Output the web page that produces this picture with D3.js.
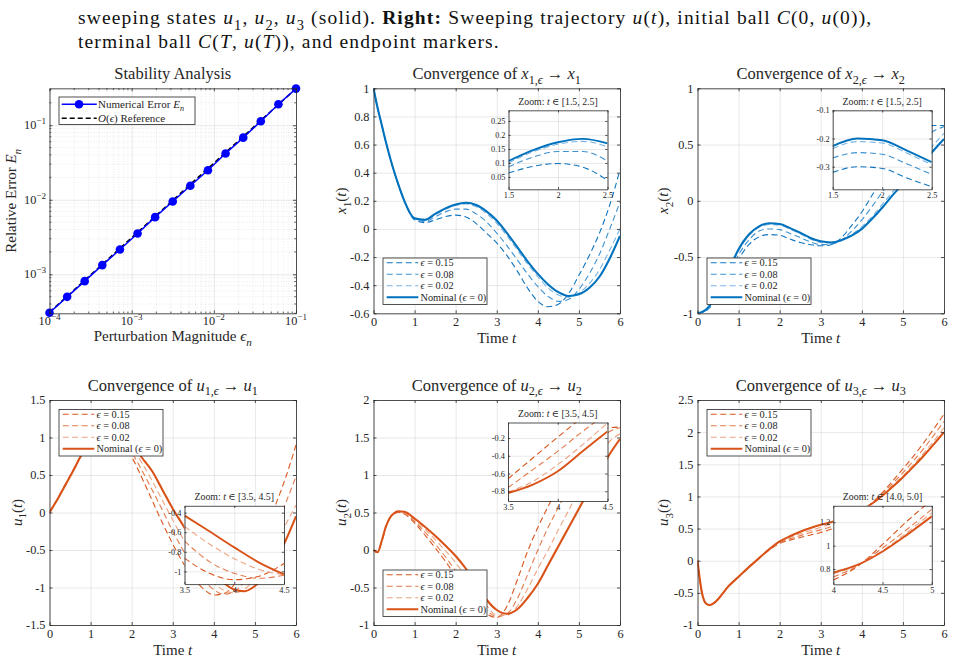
<!DOCTYPE html>
<html>
<head>
<meta charset="utf-8">
<script src="https://cdn.jsdelivr.net/npm/d3@7"></script>
<style>
  body { margin: 0; background: #fff; }
  svg { display: block; font-family: "Liberation Serif", "DejaVu Serif", serif; }
  .grid line { stroke: #000; stroke-opacity: 0.13; stroke-width: 0.7; }
  .grid path { display: none; }
  .ax path, .ax line { stroke: #262626; stroke-width: 0.8; }
  .ax text { fill: #262626; }
</style>
</head>
<body>
<svg id="fig" width="953" height="661"></svg>
<script>
// ---- data ----
const T = [0, 0.1, 0.2, 0.3, 0.4, 0.5, 0.6, 0.75, 1, 1.25, 1.5, 1.75, 2, 2.25, 2.5, 2.75,
           3, 3.25, 3.5, 3.75, 4, 4.25, 4.5, 4.75, 5, 5.25, 5.5, 5.75, 6];

const x1Nom = [1.0, 0.86, 0.74, 0.62, 0.51, 0.41, 0.32, 0.2, 0.075, 0.065, 0.107, 0.146, 0.174, 0.186, 0.17, 0.125,
               0.06, -0.03, -0.13, -0.23, -0.32, -0.395, -0.45, -0.477, -0.465, -0.42, -0.34, -0.21, -0.05];
const x1E02 = [1.0, 0.86, 0.74, 0.62, 0.51, 0.41, 0.32, 0.2, 0.072, 0.06, 0.10, 0.14, 0.167, 0.177, 0.158, 0.11,
               0.04, -0.05, -0.15, -0.25, -0.34, -0.42, -0.47, -0.485, -0.455, -0.39, -0.29, -0.15, 0.0];
const x1E08 = [1.0, 0.86, 0.74, 0.62, 0.51, 0.41, 0.32, 0.2, 0.068, 0.052, 0.086, 0.121, 0.141, 0.141, 0.107, 0.05,
               -0.03, -0.12, -0.22, -0.32, -0.41, -0.48, -0.515, -0.5, -0.43, -0.32, -0.18, 0.0, 0.19];
const x1E15 = [1.0, 0.86, 0.74, 0.62, 0.51, 0.41, 0.32, 0.2, 0.065, 0.045, 0.064, 0.088, 0.098, 0.085, 0.038, -0.03,
               -0.1, -0.19, -0.3, -0.42, -0.515, -0.553, -0.535, -0.46, -0.33, -0.19, -0.03, 0.17, 0.42];

const x2Nom = [-1.0, -0.99, -0.97, -0.93, -0.88, -0.82, -0.75, -0.63, -0.43, -0.3, -0.227, -0.2, -0.206, -0.243, -0.284, -0.33,
               -0.36, -0.37, -0.35, -0.31, -0.25, -0.16, -0.06, 0.05, 0.15, 0.25, 0.35, 0.45, 0.55];
const x2E02 = [-1.0, -0.99, -0.975, -0.94, -0.89, -0.83, -0.765, -0.645, -0.445, -0.31, -0.236, -0.211, -0.216, -0.252, -0.293, -0.34,
               -0.37, -0.375, -0.35, -0.3, -0.23, -0.14, -0.03, 0.08, 0.2, 0.3, 0.4, 0.5, 0.6];
const x2E08 = [-1.0, -0.99, -0.978, -0.945, -0.9, -0.84, -0.78, -0.67, -0.48, -0.35, -0.269, -0.25, -0.256, -0.29, -0.327, -0.365,
               -0.39, -0.385, -0.35, -0.27, -0.17, -0.05, 0.08, 0.21, 0.34, 0.45, 0.55, 0.62, 0.66];
const x2E15 = [-1.0, -0.99, -0.98, -0.95, -0.91, -0.86, -0.8, -0.7, -0.52, -0.39, -0.32, -0.3, -0.306, -0.34, -0.371, -0.39,
               -0.4, -0.39, -0.33, -0.22, -0.1, 0.05, 0.2, 0.35, 0.47, 0.57, 0.64, 0.67, 0.67];

const u1Nom = [0, 0.09, 0.18, 0.28, 0.38, 0.48, 0.58, 0.74, 0.92, 1.03, 1.06, 1.02, 0.92, 0.73, 0.55, 0.3,
               0.05, -0.17, -0.4, -0.62, -0.8, -0.94, -1.03, -1.05, -0.98, -0.84, -0.64, -0.37, -0.05];
const u1E02 = [0, 0.09, 0.18, 0.28, 0.38, 0.48, 0.58, 0.74, 0.92, 1.02, 1.05, 1.0, 0.87, 0.66, 0.42, 0.16,
               -0.1, -0.35, -0.58, -0.78, -0.94, -1.04, -1.07, -1.02, -0.88, -0.68, -0.43, -0.16, 0.1];
const u1E08 = [0, 0.09, 0.185, 0.285, 0.385, 0.485, 0.585, 0.745, 0.92, 1.01, 1.03, 0.96, 0.8, 0.56, 0.3, 0.03,
               -0.25, -0.5, -0.72, -0.9, -1.03, -1.09, -1.05, -0.92, -0.72, -0.47, -0.19, 0.13, 0.48];
const u1E15 = [0, 0.095, 0.19, 0.29, 0.39, 0.49, 0.59, 0.75, 0.91, 0.99, 0.99, 0.9, 0.74, 0.46, 0.16, -0.14,
               -0.42, -0.67, -0.87, -1.02, -1.1, -1.08, -0.96, -0.76, -0.5, -0.2, 0.1, 0.47, 0.9];

const u2Nom = [0, -0.03, 0.12, 0.31, 0.43, 0.49, 0.515, 0.51, 0.42, 0.31, 0.19, 0.06, -0.08, -0.25, -0.45, -0.66,
               -0.8, -0.85, -0.79, -0.64, -0.45, -0.2, 0.05, 0.3, 0.55, 0.8, 1.04, 1.28, 1.48];
const u2E02 = [0, -0.03, 0.12, 0.31, 0.43, 0.49, 0.51, 0.5, 0.4, 0.28, 0.14, -0.01, -0.17, -0.36, -0.56, -0.74,
               -0.87, -0.87, -0.75, -0.52, -0.25, 0.0, 0.27, 0.53, 0.8, 1.05, 1.28, 1.45, 1.55];
const u2E08 = [0, -0.03, 0.12, 0.31, 0.43, 0.49, 0.505, 0.49, 0.38, 0.24, 0.08, -0.09, -0.28, -0.47, -0.65, -0.8,
               -0.89, -0.85, -0.65, -0.33, 0.0, 0.3, 0.57, 0.84, 1.08, 1.3, 1.47, 1.58, 1.63];
const u2E15 = [0, -0.03, 0.12, 0.31, 0.43, 0.48, 0.5, 0.48, 0.36, 0.2, 0.03, -0.15, -0.35, -0.55, -0.72, -0.85,
               -0.9, -0.75, -0.4, -0.02, 0.3, 0.58, 0.85, 1.1, 1.32, 1.48, 1.58, 1.63, 1.64];

const u3Nom = [0, -0.47, -0.66, -0.69, -0.66, -0.6, -0.52, -0.4, -0.25, -0.1, 0.04, 0.18, 0.3, 0.38, 0.45, 0.51,
               0.56, 0.6, 0.65, 0.71, 0.79, 0.89, 1.01, 1.15, 1.3, 1.46, 1.63, 1.81, 2.0];
const u3E02 = [0, -0.47, -0.66, -0.69, -0.66, -0.6, -0.52, -0.4, -0.25, -0.1, 0.04, 0.18, 0.29, 0.36, 0.42, 0.47,
               0.52, 0.57, 0.62, 0.69, 0.78, 0.89, 1.02, 1.17, 1.32, 1.49, 1.67, 1.86, 2.07];
const u3E08 = [0, -0.47, -0.66, -0.69, -0.66, -0.6, -0.52, -0.4, -0.25, -0.1, 0.04, 0.175, 0.28, 0.34, 0.39, 0.44,
               0.48, 0.53, 0.59, 0.67, 0.77, 0.9, 1.04, 1.2, 1.37, 1.55, 1.74, 1.95, 2.17];
const u3E15 = [0, -0.47, -0.66, -0.69, -0.66, -0.6, -0.52, -0.4, -0.25, -0.1, 0.04, 0.17, 0.27, 0.32, 0.36, 0.4,
               0.44, 0.49, 0.56, 0.65, 0.76, 0.9, 1.06, 1.24, 1.43, 1.62, 1.83, 2.05, 2.28];

const xInT = [1.5, 1.75, 2, 2.25, 2.5];
const x1InNom = [0.107, 0.146, 0.174, 0.186, 0.170];
const x1InE02 = [0.100, 0.140, 0.167, 0.177, 0.158];
const x1InE08 = [0.086, 0.121, 0.141, 0.141, 0.107];
const x1InE15 = [0.064, 0.088, 0.098, 0.085, 0.038];
const x2InNom = [-0.227, -0.200, -0.206, -0.243, -0.284];
const x2InE02 = [-0.236, -0.211, -0.216, -0.252, -0.293];
const x2InE08 = [-0.269, -0.250, -0.256, -0.290, -0.327];
const x2InE15 = [-0.320, -0.300, -0.306, -0.340, -0.371];
const uInT = [3.5, 3.75, 4, 4.25, 4.5];
const u1InNom = [-0.43, -0.59, -0.755, -0.91, -1.03];
const u1InE02 = [-0.54, -0.72, -0.87, -0.98, -1.035];
const u1InE08 = [-0.69, -0.9, -1.02, -1.07, -1.04];
const u1InE15 = [-0.865, -1.02, -1.085, -1.05, -0.92];
const u2InNom = [-0.82, -0.725, -0.575, -0.35, -0.125];
const u2InE02 = [-0.81, -0.69, -0.5, -0.275, -0.03];
const u2InE08 = [-0.76, -0.556, -0.35, -0.125, 0.08];
const u2InE15 = [-0.66, -0.425, -0.19, 0.04, 0.28];
const u3InT = [4, 4.25, 4.5, 4.75, 5];
const u3InNom = [0.77, 0.837, 0.95, 1.094, 1.25];
const u3InE02 = [0.76, 0.834, 0.957, 1.114, 1.28];
const u3InE08 = [0.733, 0.83, 0.98, 1.14, 1.31];
const u3InE15 = [0.706, 0.826, 1.01, 1.21, 1.39];

// stability study
const epsN = [1e-4, 1.64e-4, 2.68e-4, 4.39e-4, 7.2e-4, 1.18e-3, 1.93e-3, 3.16e-3, 5.18e-3, 8.48e-3,
              1.39e-2, 2.28e-2, 3.73e-2, 6.11e-2, 1e-1];
const errN = [3.05e-4, 4.99e-4, 8.1e-4, 1.33e-3, 2.15e-3, 3.53e-3, 5.85e-3, 9.48e-3, 1.54e-2, 2.49e-2,
              4.17e-2, 6.82e-2, 0.113, 0.191, 0.31];
const refN = [3.1e-4, 5.08e-4, 8.32e-4, 1.36e-3, 2.23e-3, 3.66e-3, 5.99e-3, 9.8e-3, 1.61e-2, 2.63e-2,
              4.31e-2, 7.06e-2, 0.116, 0.189, 0.31];

const epsLabels = ["0.15", "0.08", "0.02"];

// ---- layout / style ----
const W = 246.5, H = 225;
const COLS = [49.5, 373.5, 697.5], ROWS = [88.3, 400];
const BLUE = ["#1176bf", "#3d92d2", "#78b4e3", "#0072BD"];
const ORANGE = ["#d8561e", "#e27a4b", "#eca483", "#D95319"];
const TICK = 3, FS = 12.3, TFS = 16.5, LFS = 15;

const svg = d3.select("#fig");
let clipN = 0;

function rich(sel, parts, fs) {
  let cur = 0;
  parts.forEach(([s, f = ""]) => {
    const off = f.includes("b") ? fs * 0.3 : f.includes("p") ? -fs * 0.42 : 0;
    const ts = sel.append("tspan").text(s).attr("dy", off - cur);
    cur = off;
    if (f.includes("i")) ts.attr("font-style", "italic");
    if (f.includes("B")) ts.attr("font-weight", "bold");
    if (off !== 0) ts.attr("font-size", fs * 0.74);
  });
  return sel;
}

function clip(g, w, h) {
  const id = "c" + (clipN++);
  g.append("clipPath").attr("id", id).append("rect").attr("width", w).attr("height", h);
  return "url(#" + id + ")";
}

function frame(g, x, y, w, h, xt, yt, fs, tick, xfmt, yfmt, pad) {
  const style = sel => sel.attr("font-family", null).attr("font-size", fs).attr("class", "ax");
  g.append("g").attr("transform", `translate(0,${h})`)
    .call(d3.axisBottom(x).tickValues(xt).tickSize(-tick).tickSizeOuter(0).tickPadding(pad[0]).tickFormat(xfmt)).call(style);
  g.append("g")
    .call(d3.axisLeft(y).tickValues(yt).tickSize(-tick).tickSizeOuter(0).tickPadding(pad[1]).tickFormat(yfmt)).call(style);
  g.append("g")
    .call(d3.axisTop(x).tickValues(xt).tickSize(-tick).tickSizeOuter(0).tickFormat("")).call(style);
  g.append("g").attr("transform", `translate(${w},0)`)
    .call(d3.axisRight(y).tickValues(yt).tickSize(-tick).tickSizeOuter(0).tickFormat("")).call(style);
}

function grid(g, x, y, w, h, xt, yt) {
  g.append("g").attr("class", "grid").attr("transform", `translate(0,${h})`)
    .call(d3.axisBottom(x).tickValues(xt).tickSize(-h).tickFormat(""));
  g.append("g").attr("class", "grid")
    .call(d3.axisLeft(y).tickValues(yt).tickSize(-w).tickFormat(""));
}

function drawSeries(g, x, y, t, series, pal, wNom, wDash) {
  const ln = d3.line().x(d => x(d[0])).y(d => y(d[1])).curve(d3.curveMonotoneX);
  series.forEach((vals, k) => {
    const nominal = k === 3;
    g.append("path").datum(t.map((tt, i) => [tt, vals[i]]))
      .attr("d", ln).attr("fill", "none").attr("stroke", pal[k])
      .attr("stroke-width", nominal ? wNom : wDash)
      .attr("stroke-dasharray", nominal ? null : "6,3.5");
  });
}

function legendBox(x0, y0, w, h, pal) {
  const g = svg.append("g").attr("transform", `translate(${x0},${y0})`);
  g.append("rect").attr("width", w).attr("height", h).attr("fill", "#fff")
    .attr("stroke", "#262626").attr("stroke-width", 0.8);
  const rows = [4.8, 16.3, 27.8, 39.3];
  const labels = epsLabels.map(e => [["ϵ", "i"], [" = " + e]]).concat([[["Nominal ("], ["ϵ", "i"], [" = 0)"]]]);
  labels.forEach((lab, k) => {
    const nominal = k === 3;
    g.append("line").attr("x1", 3.7).attr("x2", 35.3).attr("y1", rows[k]).attr("y2", rows[k])
      .attr("stroke", pal[k]).attr("stroke-width", nominal ? 2.1 : 1.1)
      .attr("stroke-dasharray", nominal ? null : "6,3.5");
    rich(g.append("text").attr("x", 37.5).attr("y", rows[k] + 3.4).attr("font-size", 10.3).attr("fill", "#262626"), lab, 10.3);
  });
}

function inset(c, pal) {
  const [bx, by, bw, bh] = c.box;
  const g = svg.append("g").attr("transform", `translate(${bx},${by})`);
  const x = d3.scaleLinear().domain(c.xDom).range([0, bw]);
  const y = d3.scaleLinear().domain(c.yDom).range([bh, 0]);
  g.append("rect").attr("width", bw).attr("height", bh).attr("fill", "#fff");
  grid(g, x, y, bw, bh, c.xTicks, c.yTicks);
  const lines = g.append("g").attr("clip-path", clip(g, bw, bh));
  drawSeries(lines, x, y, c.t, c.series, pal, 1.9, 1.1);
  frame(g, x, y, bw, bh, c.xTicks, c.yTicks, 8.3, 2.2, d => String(d), d => String(d), [3, 3]);
  rich(g.append("text").attr("x", bw / 2).attr("y", -5.5).attr("text-anchor", "middle")
    .attr("font-size", 9.8).attr("fill", "#262626"),
    [["Zoom: "], ["t", "i"], [" ∈ [" + c.range + "]"]], 9.8);
}

function linePanel(p) {
  const x0 = COLS[p.col], y0 = ROWS[p.row];
  const g = svg.append("g").attr("transform", `translate(${x0},${y0})`);
  const x = d3.scaleLinear().domain([0, 6]).range([0, W]);
  const y = d3.scaleLinear().domain(p.yDom).range([H, 0]);
  const xt = [0, 1, 2, 3, 4, 5, 6];
  grid(g, x, y, W, H, xt, p.yTicks);
  const lines = g.append("g").attr("clip-path", clip(g, W, H));
  drawSeries(lines, x, y, T, p.series, p.pal, 2.1, 1.1);
  frame(g, x, y, W, H, xt, p.yTicks, FS, TICK, d => String(d), d => String(d), [4.2, 4]);

  rich(g.append("text").attr("x", W / 2).attr("y", -9.5).attr("text-anchor", "middle")
    .attr("font-size", TFS).attr("fill", "#262626"), p.title, TFS);
  rich(g.append("text").attr("x", W / 2).attr("y", H + 30).attr("text-anchor", "middle")
    .attr("font-size", LFS).attr("fill", "#262626"), [["Time "], ["t", "i"]], LFS);
  rich(g.append("text").attr("transform", `translate(${p.ylx - x0},${H / 2}) rotate(-90)`)
    .attr("text-anchor", "middle").attr("font-size", LFS).attr("fill", "#262626"), p.ylab, LFS);

  legendBox(p.leg[0], p.leg[1], 104, 46.5, p.pal);
  inset(p.inset, p.pal);
}

function stabilityPanel() {
  const g = svg.append("g").attr("transform", `translate(${COLS[0]},${ROWS[0]})`);
  const x = d3.scaleLog().domain([1e-4, 1e-1]).range([0, W]);
  const y = d3.scaleLog().domain([3.0e-4, 0.313]).range([H, 0]);
  const major = v => Math.abs(Math.log10(v) - Math.round(Math.log10(v))) < 1e-6;
  const xMin = x.ticks().filter(v => !major(v)), yMin = y.ticks().filter(v => !major(v));
  const xMaj = [1e-4, 1e-3, 1e-2, 1e-1], yMaj = [1e-3, 1e-2, 1e-1];

  const mg = g.append("g").attr("stroke", "#000").attr("stroke-opacity", 0.14)
    .attr("stroke-width", 0.6).attr("stroke-dasharray", "1,1.6");
  mg.selectAll(".vx").data(xMin).join("line").attr("x1", x).attr("x2", x).attr("y1", 0).attr("y2", H);
  mg.selectAll(".hy").data(yMin).join("line").attr("y1", y).attr("y2", y).attr("x1", 0).attr("x2", W);
  grid(g, x, y, W, H, xMaj, yMaj);

  const ln = d3.line().x(d => x(d[0])).y(d => y(d[1]));
  g.append("path").datum(epsN.map((e, i) => [e, refN[i]])).attr("d", ln)
    .attr("fill", "none").attr("stroke", "#000").attr("stroke-width", 1.6).attr("stroke-dasharray", "5,3");
  g.append("path").datum(epsN.map((e, i) => [e, errN[i]])).attr("d", ln)
    .attr("fill", "none").attr("stroke", "#0000ff").attr("stroke-width", 1.5);
  g.selectAll(".mk").data(epsN.map((e, i) => [e, errN[i]])).join("circle")
    .attr("cx", d => x(d[0])).attr("cy", d => y(d[1])).attr("r", 4.3).attr("fill", "#0000ff");

  frame(g, x, y, W, H, xMaj, yMaj, FS, TICK, () => "", () => "", [4, 4]);
  // minor ticks
  const mt = g.append("g").attr("stroke", "#262626").attr("stroke-width", 0.7);
  mt.selectAll(".a").data(xMin).join("line").attr("x1", x).attr("x2", x).attr("y1", H).attr("y2", H - 1.8);
  mt.selectAll(".b").data(xMin).join("line").attr("x1", x).attr("x2", x).attr("y1", 0).attr("y2", 1.8);
  mt.selectAll(".c").data(yMin).join("line").attr("y1", y).attr("y2", y).attr("x1", 0).attr("x2", 1.8);
  mt.selectAll(".d").data(yMin).join("line").attr("y1", y).attr("y2", y).attr("x1", W).attr("x2", W - 1.8);

  xMaj.forEach(v => rich(g.append("text").attr("x", x(v)).attr("y", H + 11.5).attr("text-anchor", "middle")
    .attr("font-size", FS).attr("fill", "#262626"), [["10"], ["−" + Math.round(-Math.log10(v)), "p"]], FS));
  yMaj.forEach(v => rich(g.append("text").attr("x", -3.5).attr("y", y(v) + 4).attr("text-anchor", "end")
    .attr("font-size", FS).attr("fill", "#262626"), [["10"], ["−" + Math.round(-Math.log10(v)), "p"]], FS));

  rich(g.append("text").attr("x", W / 2).attr("y", -9.5).attr("text-anchor", "middle")
    .attr("font-size", TFS).attr("fill", "#262626"), [["Stability Analysis"]], TFS);
  rich(g.append("text").attr("x", W / 2).attr("y", H + 28).attr("text-anchor", "middle")
    .attr("font-size", LFS).attr("fill", "#262626"), [["Perturbation Magnitude "], ["ϵ", "i"], ["n", "ib"]], LFS);
  rich(g.append("text").attr("transform", `translate(${16 - COLS[0]},${H / 2}) rotate(-90)`)
    .attr("text-anchor", "middle").attr("font-size", LFS).attr("fill", "#262626"),
    [["Relative Error "], ["E", "i"], ["n", "ib"]], LFS);

  // legend
  const lg = svg.append("g").attr("transform", "translate(59,97)");
  lg.append("rect").attr("width", 136).attr("height", 27.5).attr("fill", "#fff")
    .attr("stroke", "#262626").attr("stroke-width", 0.8);
  lg.append("line").attr("x1", 2.7).attr("x2", 37.7).attr("y1", 7.3).attr("y2", 7.3)
    .attr("stroke", "#0000ff").attr("stroke-width", 1.5);
  lg.append("circle").attr("cx", 20).attr("cy", 7.3).attr("r", 4.3).attr("fill", "#0000ff");
  lg.append("line").attr("x1", 2.7).attr("x2", 37.7).attr("y1", 21.3).attr("y2", 21.3)
    .attr("stroke", "#000").attr("stroke-width", 1.6).attr("stroke-dasharray", "5,3");
  rich(lg.append("text").attr("x", 39).attr("y", 10.8).attr("font-size", 11).attr("fill", "#262626"),
    [["Numerical Error "], ["E", "i"], ["n", "ib"]], 11);
  rich(lg.append("text").attr("x", 39).attr("y", 24.8).attr("font-size", 11).attr("fill", "#262626"),
    [["O", "i"], ["("], ["ϵ", "i"], [") Reference"]], 11);
}

// caption above the figure
const cap = svg.append("g").attr("fill", "#111").attr("letter-spacing", 1.15);
rich(cap.append("text").attr("x", 78).attr("y", 24).attr("font-size", 19.5),
  [["sweeping states "], ["u", "i"], ["1", "b"], [", "], ["u", "i"], ["2", "b"], [", "], ["u", "i"], ["3", "b"],
   [" (solid).  "], ["Right:", "B"], [" Sweeping trajectory "], ["u", "i"], ["("], ["t", "i"], ["), initial ball "],
   ["C", "i"], ["(0, "], ["u", "i"], ["(0)),"]], 19.5);
rich(cap.append("text").attr("x", 78).attr("y", 48).attr("font-size", 19.5),
  [["terminal ball "], ["C", "i"], ["("], ["T", "i"], [", "], ["u", "i"], ["("], ["T", "i"], [")), and endpoint markers."]], 19.5);

stabilityPanel();

const sub = (v, s) => [[v, "i"], [s, "b"]];
linePanel({
  col: 1, row: 0, pal: BLUE, yDom: [-0.6, 1], yTicks: [-0.6, -0.4, -0.2, 0, 0.2, 0.4, 0.6, 0.8, 1],
  series: [x1E15, x1E08, x1E02, x1Nom], ylx: 346, leg: [383, 258],
  title: [["Convergence of "], ["x", "i"], ["1,", "b"], ["ϵ", "ib"], [" → "], ["x", "i"], ["1", "b"]],
  ylab: [...sub("x", "1"), ["("], ["t", "i"], [")"]],
  inset: { box: [508.5, 110.3, 99, 79], xDom: [1.5, 2.5], xTicks: [1.5, 2, 2.5], yDom: [0.006, 0.288],
           yTicks: [0.05, 0.1, 0.15, 0.2, 0.25], t: xInT, series: [x1InE15, x1InE08, x1InE02, x1InNom], range: "1.5, 2.5" }
});
linePanel({
  col: 2, row: 0, pal: BLUE, yDom: [-1, 1], yTicks: [-1, -0.5, 0, 0.5, 1],
  series: [x2E15, x2E08, x2E02, x2Nom], ylx: 668, leg: [707, 258],
  title: [["Convergence of "], ["x", "i"], ["2,", "b"], ["ϵ", "ib"], [" → "], ["x", "i"], ["2", "b"]],
  ylab: [...sub("x", "2"), ["("], ["t", "i"], [")"]],
  inset: { box: [832.7, 110.3, 99, 79], xDom: [1.5, 2.5], xTicks: [1.5, 2, 2.5], yDom: [-0.38, -0.1],
           yTicks: [-0.3, -0.2, -0.1], t: xInT, series: [x2InE15, x2InE08, x2InE02, x2InNom], range: "1.5, 2.5" }
});
linePanel({
  col: 0, row: 1, pal: ORANGE, yDom: [-1.5, 1.5], yTicks: [-1.5, -1, -0.5, 0, 0.5, 1, 1.5],
  series: [u1E15, u1E08, u1E02, u1Nom], ylx: 21.5, leg: [59, 409.5],
  title: [["Convergence of "], ["u", "i"], ["1,", "b"], ["ϵ", "ib"], [" → "], ["u", "i"], ["1", "b"]],
  ylab: [...sub("u", "1"), ["("], ["t", "i"], [")"]],
  inset: { box: [184.5, 505.8, 99.5, 78.3], xDom: [3.5, 4.5], xTicks: [3.5, 4, 4.5], yDom: [-1.13, -0.33],
           yTicks: [-1, -0.8, -0.6, -0.4], t: uInT, series: [u1InE15, u1InE08, u1InE02, u1InNom], range: "3.5, 4.5" }
});
linePanel({
  col: 1, row: 1, pal: ORANGE, yDom: [-1, 2], yTicks: [-1, -0.5, 0, 0.5, 1, 1.5, 2],
  series: [u2E15, u2E08, u2E02, u2Nom], ylx: 346, leg: [383, 570],
  title: [["Convergence of "], ["u", "i"], ["2,", "b"], ["ϵ", "ib"], [" → "], ["u", "i"], ["2", "b"]],
  ylab: [...sub("u", "2"), ["("], ["t", "i"], [")"]],
  inset: { box: [508, 422.5, 99.5, 78.5], xDom: [3.5, 4.5], xTicks: [3.5, 4, 4.5], yDom: [-0.91, -0.025],
           yTicks: [-0.8, -0.6, -0.4, -0.2], t: uInT, series: [u2InE15, u2InE08, u2InE02, u2InNom], range: "3.5, 4.5" }
});
linePanel({
  col: 2, row: 1, pal: ORANGE, yDom: [-1, 2.5], yTicks: [-1, -0.5, 0, 0.5, 1, 1.5, 2, 2.5],
  series: [u3E15, u3E08, u3E02, u3Nom], ylx: 668, leg: [707, 409.5],
  title: [["Convergence of "], ["u", "i"], ["3,", "b"], ["ϵ", "ib"], [" → "], ["u", "i"], ["3", "b"]],
  ylab: [...sub("u", "3"), ["("], ["t", "i"], [")"]],
  inset: { box: [833.3, 505.8, 98.5, 78.5], xDom: [4, 5], xTicks: [4, 4.5, 5], yDom: [0.67, 1.34],
           yTicks: [0.8, 1, 1.2], t: u3InT, series: [u3InE15, u3InE08, u3InE02, u3InNom], range: "4.0, 5.0" }
});
</script>
</body>
</html>
